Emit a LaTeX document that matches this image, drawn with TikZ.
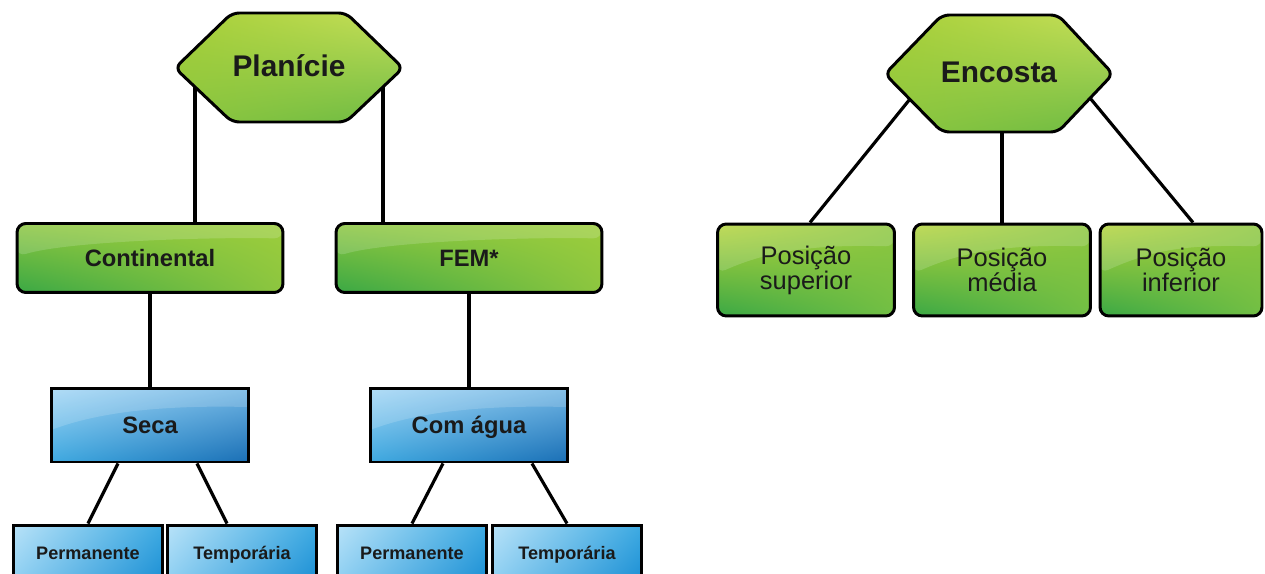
\documentclass[tikz,border=0pt]{standalone}
\usepackage{fontspec}
\setmainfont{Liberation Sans}
\usetikzlibrary{shadings}

% Couleurs
\definecolor{hexUL}{HTML}{A6CF38}
\definecolor{hexUR}{HTML}{C6DF5A}
\definecolor{hexLL}{HTML}{8CC63F}
\definecolor{hexLR}{HTML}{6DBB44}
\definecolor{verUL}{HTML}{8CC63F}
\definecolor{verUR}{HTML}{9CCD3C}
\definecolor{verLL}{HTML}{3AA845}
\definecolor{verLR}{HTML}{8DC63F}
\definecolor{posUL}{HTML}{B5D43A}
\definecolor{posUR}{HTML}{8CC63F}
\definecolor{posLL}{HTML}{3AA845}
\definecolor{posLR}{HTML}{72BF44}
\definecolor{azUL}{HTML}{A3D6F5}
\definecolor{azUR}{HTML}{6FB5E4}
\definecolor{azLL}{HTML}{3FA9E0}
\definecolor{azLR}{HTML}{1B6FB5}
\definecolor{foUL}{HTML}{B8E2F8}
\definecolor{foUR}{HTML}{3DAAE2}
\definecolor{foLL}{HTML}{8FD0F2}
\definecolor{foLR}{HTML}{1C8FD4}
\definecolor{texto}{HTML}{1A1A1A}

\tikzset{
  brilho/.style={path picture={
    \fill[white, opacity=0.16] (path picture bounding box.north west)
      -- (path picture bounding box.north east)
      -- ([yshift=-#1]path picture bounding box.north east)
      .. controls ([xshift=-1.6cm, yshift=-0.9*#1]path picture bounding box.north east)
      and ([xshift=1.0cm, yshift=-1.2*#1]path picture bounding box.north west)
      .. ([yshift=-2.2*#1]path picture bounding box.north west) -- cycle;}}
}

\begin{document}
\begin{tikzpicture}[x=0.02cm, y=-0.02cm,
  liga/.style={line width=1.8pt},
  hexa/.style={draw, line width=1.7pt, rounded corners=4pt,
    upper left=hexUL, upper right=hexUR, lower left=hexLL, lower right=hexLR},
  hextxt/.style={text=texto, font=\fontsize{17}{20}\selectfont\bfseries},
  caixa/.style={draw, line width=1.7pt, rounded corners=5pt,
    minimum width=5.32cm, minimum height=1.38cm, text=texto,
    text height=9.7pt, text depth=0pt,
    font=\fontsize{13.5}{16}\selectfont\bfseries, brilho=0.3cm,
    upper left=verUL, upper right=verUR, lower left=verLL, lower right=verLR},
  azul/.style={draw, line width=1.7pt,
    minimum width=3.94cm, minimum height=1.48cm, text=texto,
    text height=9.7pt, text depth=0pt,
    font=\fontsize{13.5}{16}\selectfont\bfseries, brilho=0.38cm,
    upper left=azUL, upper right=azUR, lower left=azLL, lower right=azLR},
  folha/.style={draw, line width=1.7pt,
    minimum width=3.0cm, minimum height=1.12cm, text=texto,
    text height=7.4pt, text depth=0pt,
    font=\fontsize{10.3}{12}\selectfont\bfseries,
    upper left=foUL, upper right=foUR, lower left=foLL, lower right=foLR},
  posicao/.style={draw, line width=1.7pt, rounded corners=5pt,
    minimum width=3.54cm, minimum height=1.84cm, text=texto, align=center,
    font=\fontsize{14.5}{14.2}\selectfont, brilho=0.45cm,
    upper left=posUL, upper right=posUR, lower left=posLL, lower right=posLR}]

  \useasboundingbox (0,0) rectangle (1265,574);

  % Planicie
  \draw[hexa] (175,68) -- (232,13) -- (346,13) -- (403,68) -- (346,122) -- (232,122) -- cycle;
  \node[hextxt] (plan) at (289,66) {Planície};
  \coordinate (planE) at (195,87);
  \coordinate (planD) at (383,87);

  \node[caixa] (cont) at (150,258) {Continental};
  \node[caixa] (fem) at (469,258) {FEM*};
  \node[azul] (seca) at (150,425) {Seca};
  \node[azul] (agua) at (469,425) {Com água};
  \node[folha] (perm1) at (88,553) {Permanente};
  \node[folha] (temp1) at (242,553) {Temporária};
  \node[folha] (perm2) at (412,553) {Permanente};
  \node[folha] (temp2) at (567,553) {Temporária};

  \draw[liga] (planE) -- (planE |- cont.north);
  \draw[liga] (planD) -- (planD |- fem.north);
  \draw[liga] (cont.south) -- (seca.north);
  \draw[liga] (fem.south) -- (agua.north);
  \draw[liga] ([xshift=-0.64cm]seca.south) -- (perm1.north);
  \draw[liga] ([xshift=0.94cm]seca.south) -- ([xshift=-0.3cm]temp1.north);
  \draw[liga] ([xshift=-0.52cm]agua.south) -- (perm2.north);
  \draw[liga] ([xshift=1.26cm]agua.south) -- (temp2.north);

  % Encosta
  \draw[hexa] (885,74) -- (942,15) -- (1058,15) -- (1113,74) -- (1058,132) -- (942,132) -- cycle;
  \node[hextxt] (enc) at (999,72) {Encosta};
  \coordinate (encE) at (910,99);
  \coordinate (encM) at (1002,132);
  \coordinate (encD) at (1090,98);

  \node[posicao] (sup) at (806,270) {Posição\\superior};
  \node[posicao] (med) at (1002,270) {Posição\\média};
  \node[posicao, minimum width=3.24cm] (inf) at (1181,270) {Posição\\inferior};

  \draw[liga] (encE) -- ([xshift=0.08cm]sup.north);
  \draw[liga] (encM) -- (med.north);
  \draw[liga] (encD) -- ([xshift=0.24cm]inf.north);
\end{tikzpicture}
\end{document}
